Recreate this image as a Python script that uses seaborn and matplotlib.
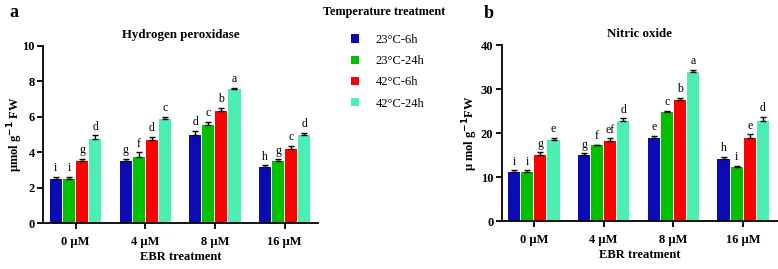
import numpy as np
import matplotlib.pyplot as plt
from matplotlib.patches import Patch
import seaborn as sns
import pandas as pd

# data
ebr = ['0 µM', '4 µM', '8 µM', '16 µM']
temps = ['23°C-6h', '23°C-24h', '42°C-6h', '42°C-24h']
pal = ['#0b0bb4', '#00c000', '#fe0000', '#4cefb2']

h2o2 = [[2.5, 2.5, 3.5, 4.75],
        [3.5, 3.75, 4.7, 5.9],
        [5.0, 5.55, 6.3, 7.55],
        [3.15, 3.5, 4.2, 5.0]]
h2o2_err = [[0.1, 0.1, 0.12, 0.2],
            [0.12, 0.25, 0.15, 0.08],
            [0.2, 0.18, 0.22, 0.08],
            [0.1, 0.1, 0.15, 0.1]]
h2o2_let = [['i', 'i', 'g', 'd'],
            ['g', 'f', 'd', 'c'],
            ['d', 'c', 'b', 'a'],
            ['h', 'g', 'c', 'd']]

no = [[11.1, 11.1, 14.9, 18.4],
      [14.9, 17.2, 18.1, 22.7],
      [18.9, 24.7, 27.6, 33.9],
      [14.1, 12.3, 18.9, 22.7]]
no_err = [[0.4, 0.4, 0.7, 0.5],
          [0.5, 0.1, 0.7, 0.6],
          [0.5, 0.4, 0.4, 0.5],
          [0.5, 0.3, 0.8, 1.0]]
no_let = [['i', 'i', 'g', 'e'],
          ['g', 'f', 'ef', 'd'],
          ['e', 'c', 'b', 'a'],
          ['h', 'i', 'e', 'd']]

plt.rcParams['font.family'] = ['Liberation Serif', 'DejaVu Serif']
plt.rcParams['font.weight'] = 'bold'

def longDf(vals, errs, lets):
    rows = []
    for i, g in enumerate(ebr):
        for j, t in enumerate(temps):
            rows.append({'ebr': g, 'temp': t, 'val': vals[i][j], 'err': errs[i][j], 'let': lets[i][j]})
    return pd.DataFrame(rows)

def panel(ax, df, title, ylabel, ymax, ystep, xlim, off, ylx):
    sns.barplot(df, x='ebr', y='val', hue='temp', hue_order=temps, palette=pal,
                errorbar=None, width=0.75, gap=0.08, saturation=1, legend=False, ax=ax)
    # error bars and letters, matched to bar patches in hue order
    for j, t in enumerate(temps):
        sub = df[df['temp'] == t].set_index('ebr').loc[ebr]
        cont = ax.containers[j]
        xs = [p.get_x() + p.get_width() / 2 for p in cont.patches]
        ax.errorbar(xs, sub['val'], yerr=[np.zeros(len(xs)), sub['err']], fmt='none',
                    ecolor='black', elinewidth=1, capsize=2.5, capthick=1)
        for x, v, e, l in zip(xs, sub['val'], sub['err'], sub['let']):
            ax.text(x, v + e + off, l, ha='center', va='bottom', fontsize=8.5, fontweight='normal')
    ax.set_ylim(0, ymax)
    ax.set_yticks(np.arange(0, ymax + 0.1, ystep))
    ax.set_xlim(*xlim)
    ax.set_title(title, fontsize=9.3, fontweight='bold', pad=6)
    ax.set_xlabel('EBR treatment', fontsize=9, fontweight='bold', labelpad=2)
    ax.set_ylabel(ylabel, fontsize=9, fontweight='bold')
    ax.yaxis.set_label_coords(ylx, 0.5)
    sns.despine(ax=ax)
    for s in ['left', 'bottom']:
        ax.spines[s].set_linewidth(1.3)
    ax.tick_params(width=1.3, length=4.5, labelsize=9, pad=1.5)
    ax.tick_params(axis='x', pad=5)
    for lab in ax.get_xticklabels() + ax.get_yticklabels():
        lab.set_fontweight('bold')

fig = plt.figure(figsize=(7.78, 2.69), dpi=100)
axA = fig.add_axes([0.0553, 0.171, 0.3535, 0.658])
axB = fig.add_axes([0.645, 0.1784, 0.355, 0.6543])

panel(axA, longDf(h2o2, h2o2_err, h2o2_let), 'Hydrogen peroxidase', 'µmol g$^{\\mathbf{-1}}$ FW',
      10, 2, (-0.466, 3.48), 0.15, -0.065)
panel(axB, longDf(no, no_err, no_let), 'Nitric oxide', 'µ mol g$^{\\mathbf{-1}}$FW',
      40, 10, (-0.46, 3.5), 0.6, -0.08)

fig.text(0.012, 0.955, 'a', fontsize=13, fontweight='bold', va='center')
fig.text(0.622, 0.948, 'b', fontsize=13, fontweight='bold', va='center')

# legend: title as separate text, entries below it
fig.text(0.494, 0.955, 'Temperature treatment', fontsize=8.8, fontweight='bold',
         ha='center', va='center')
handles = [Patch(facecolor=c, edgecolor='none') for c in pal]
fig.legend(handles, temps, loc='upper left', bbox_to_anchor=(0.451, 0.874), frameon=False,
           handlelength=0.65, handleheight=0.65, handletextpad=1.35, labelspacing=0.74,
           borderpad=0, borderaxespad=0, prop={'size': 9, 'weight': 'normal'})

fig.savefig('out.png', dpi=100)
